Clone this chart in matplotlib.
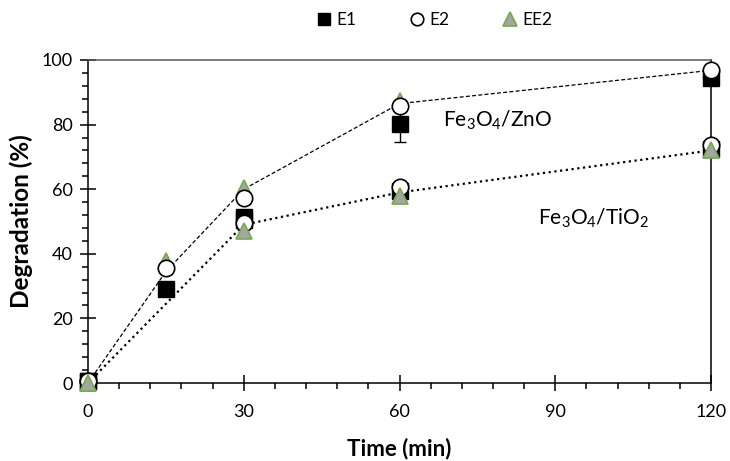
import matplotlib
matplotlib.use("Agg")
import matplotlib.pyplot as plt
from matplotlib.lines import Line2D
from matplotlib.ticker import MultipleLocator

plt.rcParams['font.family'] = ['Lato', 'DejaVu Sans']
plt.rcParams['mathtext.fontset'] = 'custom'
plt.rcParams['mathtext.rm'] = 'Lato'
plt.rcParams['mathtext.default'] = 'regular'

# Degradation (%) versus time (min) for the two catalysts
time_zno = [0, 15, 30, 60, 120]
zno_e1 = [0.5, 29, 51.5, 80.2, 94.3]
zno_e1_err = [0, 0, 0, 5.5, 0]
zno_e2 = [0.5, 35.6, 57.3, 85.8, 96.8]
zno_ee2 = [0, 37.8, 60.4, 87.3, 97]
zno_trend = [0, 34.5, 60, 86.5, 96.8]

time_tio2 = [0, 30, 60, 120]
tio2_e1 = [0.5, 50.5, 59.5, 72.6]
tio2_e2 = [0.5, 49.5, 60.7, 73.7]
tio2_ee2 = [0, 47, 58, 72.2]
tio2_trend = [0, 49, 59, 72]

x_ticks = [0, 30, 60, 90, 120]
y_ticks = [0, 20, 40, 60, 80, 100]

tri_face = '#a5a5a5'
tri_edge = '#70ad47'
ms = 11.8

fig = plt.figure(figsize=(7.30, 4.61), dpi=100)
ax = fig.add_axes([88 / 730, 1 - 383 / 461, (711 - 88) / 730, (383 - 60) / 461])

# trend lines
ax.plot(time_zno, zno_trend, color='black', lw=0.9, linestyle=(0, (3.2, 1.8)), zorder=2)
ax.plot(time_tio2, tio2_trend, color='black', lw=1.6, linestyle=(0, (1, 1.6)), zorder=2)

sq = dict(marker='s', ms=ms, mfc='black', mec='black', mew=1, ls='none', clip_on=False)
ci = dict(marker='o', ms=ms, mfc='white', mec='black', mew=1.2, ls='none', clip_on=False)
tr = dict(marker='^', ms=ms, mfc=tri_face, mec=tri_edge, mew=1.2, ls='none', clip_on=False)

# Fe3O4/ZnO markers
ax.plot(time_zno, zno_ee2, zorder=3, **tr)
ax.errorbar(time_zno, zno_e1, yerr=zno_e1_err, ecolor='black', elinewidth=1,
            capsize=4, capthick=1, zorder=4, **sq)
ax.plot(time_zno, zno_e2, zorder=5, **ci)

# Fe3O4/TiO2 markers
ax.plot(time_tio2, tio2_e1, zorder=6, **sq)
ax.plot(time_tio2, tio2_e2, zorder=7, **ci)
ax.plot(time_tio2, tio2_ee2, zorder=8, **tr)

ax.set_xlim(0, 120)
ax.set_ylim(0, 100)
ax.set_xticks(x_ticks)
ax.set_yticks(y_ticks)
ax.xaxis.set_minor_locator(MultipleLocator(6))
ax.yaxis.set_minor_locator(MultipleLocator(4))
ax.tick_params(which='major', direction='inout', length=12, width=1.1,
               labelsize=13, color='black')
ax.tick_params(axis='x', which='major', pad=9)
ax.tick_params(axis='y', which='major', pad=5)
ax.tick_params(which='minor', direction='out', length=4.5, width=1.1, color='black')
ax.tick_params(axis='y', which='both', right=False)
ax.tick_params(axis='x', which='both', top=False)

for side in ['left', 'bottom', 'right']:
    ax.spines[side].set_color('black')
    ax.spines[side].set_linewidth(1.1)
ax.spines['top'].set_color('#595959')
ax.spines['top'].set_linewidth(1.1)

ax.set_xlabel('Time (min)', fontsize=16, fontweight='bold', labelpad=13)
ax.set_ylabel('Degradation (%)', fontsize=17.5, fontweight='bold', labelpad=6)

ax.text(68.3, 81.3, r'Fe$_3$O$_4$/ZnO', fontsize=15, va='center', ha='left')
ax.text(86.6, 51.0, r'Fe$_3$O$_4$/TiO$_2$', fontsize=15, va='center', ha='left')

handles = [
    Line2D([], [], marker='s', ms=9, mfc='black', mec='black', ls='none'),
    Line2D([], [], marker='o', ms=9, mfc='white', mec='black', mew=1.2, ls='none'),
    Line2D([], [], marker='^', ms=10, mfc=tri_face, mec=tri_edge, mew=1.2, ls='none'),
]
fig.legend(handles, ['E1', 'E2', 'EE2'], loc='center', bbox_to_anchor=(433 / 730, 1 - 20 / 461),
           ncol=3, frameon=False, fontsize=12.5, handletextpad=0.1, columnspacing=2.9,
           handlelength=1.2)

fig.savefig('out.png', dpi=100)
